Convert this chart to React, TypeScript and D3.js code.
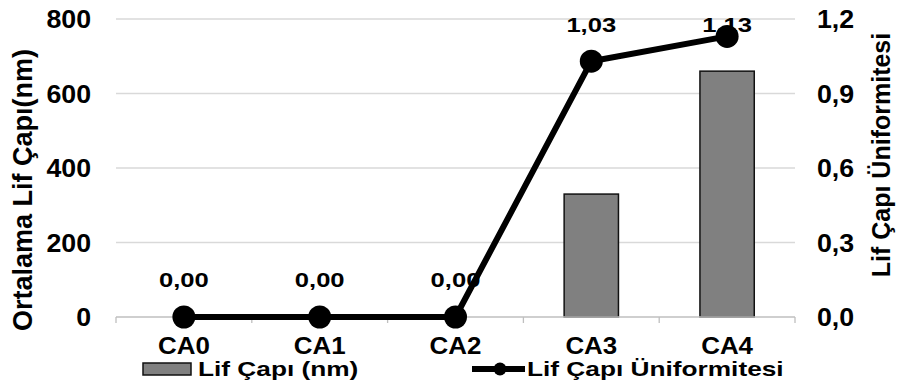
import React from "react";
import * as d3 from "d3";

const categories = ["CA0", "CA1", "CA2", "CA3", "CA4"];
const diameterValues = [0, 0, 0, 330, 660];
const uniformityValues = [0, 0, 0, 1.03, 1.13];
const uniformityLabels = ["0,00", "0,00", "0,00", "1,03", "1,13"];
const leftTicks = [0, 200, 400, 600, 800];
const rightTicks = [0, 0.3, 0.6, 0.9, 1.2];
const rightTickLabels = ["0,0", "0,3", "0,6", "0,9", "1,2"];

const W = 898;
const H = 387;
const FONT = "'Liberation Sans', Arial, Helvetica, sans-serif";

function SText(props: any) {
  const { x, y, sx = 1, children, anchor = "middle", size = 22, ...rest } = props;
  return (
    <text
      transform={`translate(${x},${y}) scale(${sx},1)`}
      textAnchor={anchor}
      fontSize={size}
      fontWeight="bold"
      fontFamily={FONT}
      fill="#000"
      {...rest}
    >
      {children}
    </text>
  );
}

export default function App() {
  const left = 116;
  const right = 795;
  const top = 19;
  const bottom = 317;

  const x = d3.scaleBand<string>().domain(categories).range([left, right]).padding(0);
  const yL = d3.scaleLinear().domain([0, 800]).range([bottom, top]);
  const yR = d3.scaleLinear().domain([0, 1.2]).range([bottom, top]);
  const bw = x.bandwidth() * 0.4;

  const line = d3
    .line<number>()
    .x((_, i) => (x(categories[i]) as number) + x.bandwidth() / 2)
    .y((d) => yR(d));

  const boundaries = categories.map((c) => x(c) as number).concat([right]);

  return (
    <svg
      width={W}
      height={H}
      style={{ position: "absolute", left: 0, top: 0, background: "#fff" }}
    >
      <rect x={0} y={0} width={W} height={H} fill="#fff" />
      {/* gridlines */}
      {leftTicks.slice(1).map((t) => (
        <line key={t} x1={left} x2={right} y1={yL(t)} y2={yL(t)} stroke="#d9d9d9" strokeWidth={1.3} />
      ))}
      {/* bars */}
      {categories.map((c, i) =>
        diameterValues[i] > 0 ? (
          <rect
            key={c}
            x={(x(c) as number) + x.bandwidth() / 2 - bw / 2}
            y={yL(diameterValues[i])}
            width={bw}
            height={bottom - yL(diameterValues[i])}
            fill="#808080"
            stroke="#111"
            strokeWidth={1.5}
          />
        ) : null
      )}
      {/* x axis */}
      <line x1={left} x2={right} y1={bottom} y2={bottom} stroke="#bfbfbf" strokeWidth={1.3} />
      {boundaries.map((b, i) => (
        <line key={i} x1={b} x2={b} y1={bottom} y2={bottom + 6} stroke="#bfbfbf" strokeWidth={1.3} />
      ))}
      {/* line series */}
      <path d={line(uniformityValues) as string} fill="none" stroke="#000" strokeWidth={6} strokeLinejoin="round" />
      {uniformityValues.map((v, i) => (
        <circle
          key={i}
          cx={(x(categories[i]) as number) + x.bandwidth() / 2}
          cy={yR(v)}
          r={11.5}
          fill="#000"
        />
      ))}
      {/* data labels */}
      {uniformityValues.map((v, i) => (
        <SText
          key={i}
          x={(x(categories[i]) as number) + x.bandwidth() / 2}
          y={Math.max(yR(v) - 30, 32)}
          size={21}
          sx={1.22}
        >
          {uniformityLabels[i]}
        </SText>
      ))}
      {/* left ticks */}
      {leftTicks.map((t) => (
        <SText key={t} x={91} y={yL(t) + 9} anchor="end" size={25} sx={1.07}>
          {String(t)}
        </SText>
      ))}
      {/* right ticks */}
      {rightTicks.map((t, i) => (
        <SText key={t} x={817} y={yR(t) + 9} anchor="start" size={25} sx={1.07}>
          {rightTickLabels[i]}
        </SText>
      ))}
      {/* category labels */}
      {categories.map((c) => (
        <SText key={c} x={(x(c) as number) + x.bandwidth() / 2} y={354} size={24} sx={1.08}>
          {c}
        </SText>
      ))}
      {/* axis titles */}
      <text
        transform="translate(32,190) rotate(-90)"
        textAnchor="middle"
        fontSize={27}
        fontWeight="bold"
        fontFamily={FONT}
      >
        Ortalama Lif Çapı(nm)
      </text>
      <text
        transform="translate(890,155) rotate(-90)"
        textAnchor="middle"
        fontSize={25}
        fontWeight="bold"
        fontFamily={FONT}
      >
        Lif Çapı Üniformitesi
      </text>
      {/* legend */}
      <rect x={143} y={363} width={48} height={12} fill="#808080" stroke="#111" strokeWidth={1.5} />
      <SText x={198} y={376} anchor="start" size={21} sx={1.25}>
        Lif Çapı (nm)
      </SText>
      <line x1={472} x2={525} y1={369} y2={369} stroke="#000" strokeWidth={6} />
      <circle cx={500} cy={369} r={6.5} fill="#000" />
      <SText x={527} y={376} anchor="start" size={21} sx={1.25}>
        Lif Çapı Üniformitesi
      </SText>
    </svg>
  );
}
